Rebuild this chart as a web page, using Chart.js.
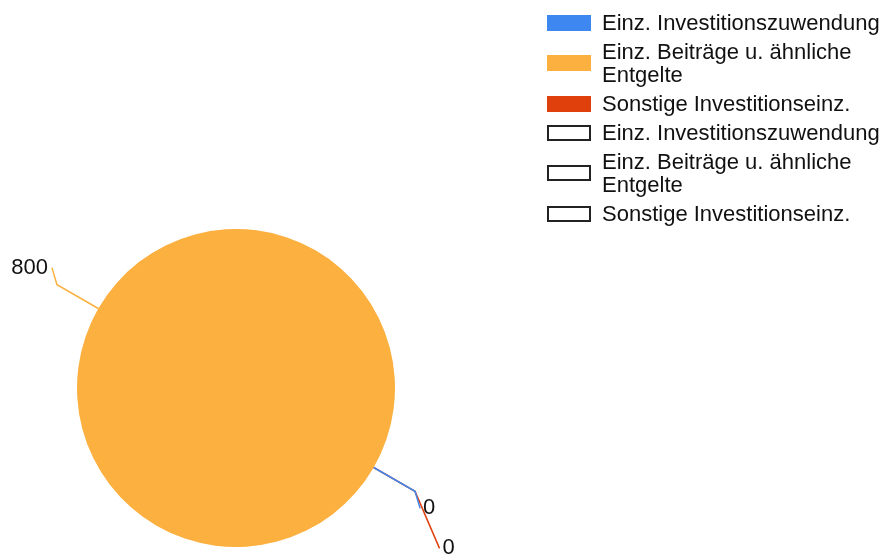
<!DOCTYPE html>
<html>
<head>
<meta charset="utf-8">
<script src="https://cdn.jsdelivr.net/npm/chart.js@4.4.1/dist/chart.umd.min.js"></script>
<style>
   body{margin:0;background:#fff;}
   #wrap{position:relative;width:886px;height:556px;overflow:hidden;}
   #legend{position:absolute;left:547px;top:8px;font-family:"Liberation Sans",Arial,sans-serif;font-size:22px;line-height:23px;color:#111;}
   .item{display:flex;align-items:center;padding:3px 0;}
   .box{width:44px;height:16px;box-sizing:border-box;flex:none;margin-right:11px;}
   .txt{width:282px;}
</style>
</head>
<body>
<div id="wrap">
   <canvas id="c" width="886" height="556"></canvas>
   <div id="legend"></div>
</div>
<script>

/* daten */
const categories = [
   "Einz. Investitionszuwendung",
   "Einz. Beiträge u. ähnliche Entgelte",
   "Sonstige Investitionseinz."
];

const series1 = [0, 800, 0];

/* zweite reihe ohne werte, nur in der legende */
const series2 = [];

const sliceColors = ["#3F87F0", "#FBB03F", "#E0400C"];


/* legende */
function buildLegend(){

   let legend =
      document.getElementById("legend");

   let html = "";

   categories.forEach(function(name, i){

      html += '<div class="item"><div class="box" style="background:' + sliceColors[i] + '"></div>' +
              '<div class="txt">' + name + '</div></div>';

   });

   categories.forEach(function(name){

      html += '<div class="item"><div class="box" style="background:#fff;border:2px solid #222"></div>' +
              '<div class="txt">' + name + '</div></div>';

   });

   legend.innerHTML = html;

}

buildLegend();


/* beschriftung mit fuehrungslinien */
const leaderLabels = {

   id:"leaderLabels",

   afterDatasetsDraw(chart){

      let ctx = chart.ctx;
      let meta = chart.getDatasetMeta(0);
      let stackCount = {};
      let items = [];
      let TWO_PI = Math.PI * 2;

      meta.data.forEach(function(arc, i){

         let p = arc.getProps(["x","y","startAngle","endAngle","outerRadius"], true);
         let mid = (p.startAngle + p.endAngle) / 2;
         mid = ((mid % TWO_PI) + TWO_PI) % TWO_PI;

         let cos = Math.cos(mid);
         let sin = Math.sin(mid);

         let sx = p.x + cos * p.outerRadius;
         let sy = p.y + sin * p.outerRadius;
         let ex = p.x + cos * p.outerRadius * 1.3;
         let ey = p.y + sin * p.outerRadius * 1.3;

         /* labels am gleichen punkt staffeln */
         let key = Math.round(mid * 20);
         let n = stackCount[key] || 0;
         stackCount[key] = n + 1;

         let dir = sin < 0 ? -1 : 1;
         let side = cos < 0 ? -1 : 1;
         let dy = dir * (17 + n * 40);
         let dx = side * Math.abs(dy) * (n === 0 ? 0.3 : 0.43);

         items.push({i:i, sx:sx, sy:sy, ex:ex, ey:ey, lx:ex + dx, ly:ey + dy, side:side});

      });

      ctx.save();
      ctx.font = "22px 'Liberation Sans', Arial, sans-serif";
      ctx.textBaseline = "middle";
      ctx.lineWidth = 1.5;

      /* rueckwaerts, damit die erste linie oben liegt */
      items.slice().reverse().forEach(function(it){

         ctx.strokeStyle = sliceColors[it.i];
         ctx.beginPath();
         ctx.moveTo(it.sx, it.sy);
         ctx.lineTo(it.ex, it.ey);
         ctx.lineTo(it.lx, it.ly);
         ctx.stroke();

      });

      ctx.fillStyle = "#111";

      items.forEach(function(it){

         if(it.side < 0){
            ctx.textAlign = "right";
            ctx.fillText(String(series1[it.i]), it.lx - 4, it.ly);
         }else{
            ctx.textAlign = "left";
            ctx.fillText(String(series1[it.i]), it.lx + 3, it.ly);
         }

      });

      ctx.restore();

   }

};


new Chart(document.getElementById("c"), {

   type:"pie",

   data:{

      labels:categories,

      datasets:[{
         data:series1,
         backgroundColor:sliceColors,
         borderWidth:0
      }]

   },

   options:{

      responsive:false,
      animation:false,
      rotation:120,

      layout:{
         padding:{left:77, top:229, right:491, bottom:9}
      },

      plugins:{
         legend:{display:false},
         tooltip:{enabled:false}
      }

   },

   plugins:[leaderLabels]

});

</script>
</body>
</html>
